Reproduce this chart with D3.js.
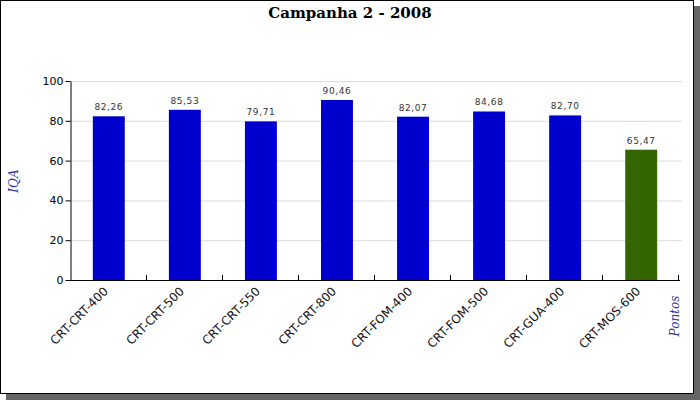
<!DOCTYPE html>
<html><head><meta charset="utf-8">
<script src="https://cdn.jsdelivr.net/npm/d3@7"></script>
<style>body{margin:0;background:#fff}</style>
</head><body>
<svg id="c" width="700" height="400"></svg>
<script>
const categories = ["CRT-CRT-400","CRT-CRT-500","CRT-CRT-550","CRT-CRT-800","CRT-FOM-400","CRT-FOM-500","CRT-GUA-400","CRT-MOS-600"];
const values = [82.26,85.53,79.71,90.46,82.07,84.68,82.70,65.47];
const barColors = ["#0000CC","#0000CC","#0000CC","#0000CC","#0000CC","#0000CC","#0000CC","#336600"];
const yTicks = [0,20,40,60,80,100];
const title = "Campanha 2 - 2008";

const svg = d3.select("#c");
// shadow + frame
svg.append("rect").attr("x",6).attr("y",6).attr("width",694).attr("height",394).attr("fill","#666");
svg.append("rect").attr("x",0.5).attr("y",0.5).attr("width",693).attr("height",393).attr("fill","#fff").attr("stroke","#000");

const x = d3.scaleBand().domain(categories).range([70,680]).paddingInner(0.58).paddingOuter(0.30);
const y = d3.scaleLinear().domain([0,100]).range([280,81]);

// grid
svg.append("g").selectAll("line").data(yTicks.filter(d=>d>0)).join("line")
  .attr("x1",70).attr("x2",682).attr("y1",d=>y(d)+0.5).attr("y2",d=>y(d)+0.5)
  .attr("stroke","#dddddd");

// bars
svg.append("g").selectAll("rect").data(values).join("rect")
  .attr("x",(d,i)=>x(categories[i])).attr("width",x.bandwidth())
  .attr("y",d=>y(d)).attr("height",d=>y(0)-y(d))
  .attr("fill",(d,i)=>barColors[i]);

// value labels
svg.append("g").selectAll("text").data(values).join("text")
  .attr("x",(d,i)=>x(categories[i])+x.bandwidth()/2).attr("y",d=>y(d)-6)
  .attr("text-anchor","middle").attr("font-family","DejaVu Sans").attr("font-size",9)
  .attr("fill","#333").attr("letter-spacing","0.6")
  .text(d=>d.toFixed(2).replace(".",","));

// y axis
const ya = svg.append("g").attr("transform","translate(70.5,0)")
  .call(d3.axisLeft(y).tickValues(yTicks).tickSize(5).tickSizeOuter(0));
ya.select(".domain").attr("stroke","#000");
ya.selectAll("line").attr("stroke","#000");
ya.selectAll("text").attr("font-family","DejaVu Sans").attr("font-size",11).attr("fill","#000").attr("x",-7);

// x axis
const step = x.step();
const bounds = d3.range(1, categories.length+1).map(i=>70+i*step);
svg.append("line").attr("x1",70).attr("x2",680).attr("y1",280.5).attr("y2",280.5).attr("stroke","#000");
svg.append("g").selectAll("line").data(bounds).join("line")
  .attr("x1",d=>Math.round(d)+0.5).attr("x2",d=>Math.round(d)+0.5).attr("y1",275).attr("y2",280).attr("stroke","#000");

svg.append("g").selectAll("text").data(categories).join("text")
  .attr("transform",d=>`translate(${x(d)+x.bandwidth()/2},${292}) rotate(-45)`)
  .attr("text-anchor","end").attr("font-family","DejaVu Sans").attr("font-size",12).attr("fill","#111")
  .text(d=>d);

// title
svg.append("text").attr("x",350).attr("y",18).attr("text-anchor","middle")
  .attr("font-family","DejaVu Serif").attr("font-weight","bold").attr("font-size",15).text(title);

// axis titles
svg.append("text").attr("transform","translate(18,181) rotate(-90)").attr("text-anchor","middle")
  .attr("font-family","DejaVu Serif").attr("font-style","italic").attr("font-size",12).attr("fill","#333399").text("IQA");
svg.append("text").attr("transform","translate(679,316) rotate(-90)").attr("text-anchor","middle")
  .attr("font-family","DejaVu Serif").attr("font-style","italic").attr("font-size",12).attr("fill","#333399").text("Pontos");
</script>
</body></html>
